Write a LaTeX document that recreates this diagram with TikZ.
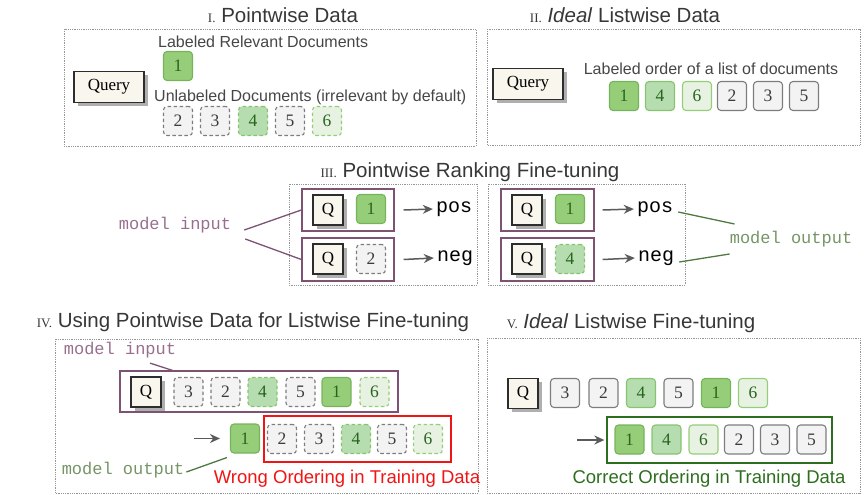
\documentclass[tikz,border=0pt]{standalone}
\usepackage{fontspec}
\setmainfont{Liberation Serif}
\setsansfont{Liberation Sans}
\setmonofont{Liberation Mono}
\usetikzlibrary{arrows.meta,shadows,calc}
\definecolor{relAfill}{RGB}{150,205,120}
\definecolor{relAline}{RGB}{118,180,92}
\definecolor{relBfill}{RGB}{182,221,176}
\definecolor{relBline}{RGB}{135,196,112}
\definecolor{relCfill}{RGB}{231,242,227}
\definecolor{relCline}{RGB}{150,205,120}
\definecolor{reltext}{RGB}{40,100,30}
\definecolor{nonfill}{RGB}{243,243,243}
\definecolor{nonline}{RGB}{125,125,125}
\definecolor{nontext}{RGB}{60,60,60}
\definecolor{qfill}{RGB}{248,246,237}
\definecolor{qline}{RGB}{45,45,45}
\definecolor{shadowgray}{RGB}{175,175,175}
\definecolor{framegray}{RGB}{150,150,150}
\definecolor{titlegray}{RGB}{55,55,55}
\definecolor{labelgray}{RGB}{70,70,70}
\definecolor{inpurple}{RGB}{125,82,115}
\definecolor{intext}{RGB}{152,112,142}
\definecolor{outline}{RGB}{80,120,65}
\definecolor{outtext}{RGB}{118,148,102}
\definecolor{arrowgray}{RGB}{90,90,90}
\definecolor{wrongred}{RGB}{240,20,20}
\definecolor{rightgreen}{RGB}{45,110,30}
\tikzstyle{panelframe}=[draw=framegray, densely dotted, line width=0.8pt]
\tikzstyle{doc}=[rounded corners=3.5pt, minimum width=29pt, minimum height=29pt, line width=1.1pt, inner sep=0pt, font=\fontsize{17.5}{17.5}\selectfont]
\tikzstyle{docA}=[doc, draw=relAline, fill=relAfill, text=reltext]
\tikzstyle{docB}=[doc, draw=relBline, fill=relBfill, text=reltext]
\tikzstyle{docC}=[doc, draw=relCline, fill=relCfill, text=reltext]
\tikzstyle{docN}=[doc, draw=nonline, fill=nonfill, text=nontext]
\tikzstyle{unl}=[dash pattern=on 3.5pt off 2.5pt]
\tikzstyle{query}=[draw=qline, fill=qfill, line width=1.6pt, inner sep=0pt, font=\fontsize{17}{17}\selectfont, drop shadow={shadow xshift=3.5pt, shadow yshift=-3.5pt, fill=shadowgray, opacity=1}]
\tikzstyle{paneltitle}=[font=\sffamily\fontsize{20.5}{20.5}\selectfont, text=titlegray, inner sep=1pt]
\tikzstyle{doclabel}=[font=\sffamily\fontsize{16}{16}\selectfont, text=labelgray, inner sep=1pt]
\tikzstyle{ttlabel}=[font=\ttfamily\fontsize{17}{17}\selectfont, inner sep=1pt]
\tikzstyle{inbox}=[draw=inpurple, line width=1.3pt, inner sep=0pt]
\tikzstyle{arr}=[draw=arrowgray, line width=1.5pt, -{Stealth[length=10pt,width=9pt]}]
\newcommand{\secnum}[1]{{\rmfamily\fontsize{13}{13}\selectfont #1.}}

\begin{document}
\begin{tikzpicture}[x=1pt,y=-1pt]
    \useasboundingbox (0,0) rectangle (867,495);

    % I. pointwise data
    \node[paneltitle] (tI) at (283,15) {\secnum{I} Pointwise Data};
    \draw[panelframe] (64,29) rectangle (476,146);
    \node[query, minimum width=70pt, minimum height=31pt] (qI) at (109,87) {Query};
    \node[doclabel, anchor=west] (lrel) at (157,42) {Labeled Relevant Documents};
    \node[docA] (dI1) at (178,66) {1};
    \node[doclabel, anchor=west] (lunl) at (153,97) {Unlabeled Documents (irrelevant by default)};
    \node[docN, unl] (dI2) at (178,121) {2};
    \node[docN, unl] (dI3) at (215,121) {3};
    \node[docB, unl] (dI4) at (253,121) {4};
    \node[docN, unl] (dI5) at (290,121) {5};
    \node[docC, unl] (dI6) at (327,121) {6};

    % II. ideal listwise data
    \node[paneltitle] (tII) at (625,15) {\secnum{II} \textit{Ideal} Listwise Data};
    \draw[panelframe] (487,29) rectangle (860,145);
    \node[query, minimum width=70pt, minimum height=31pt] (qII) at (528,84) {Query};
    \node[doclabel] (lord) at (711,69) {Labeled order of a list of documents};
    \node[docA] (dII1) at (624,96) {1};
    \node[docB] (dII4) at (660,96) {4};
    \node[docC] (dII6) at (697,96) {6};
    \node[docN] (dII2) at (732,96) {2};
    \node[docN] (dII3) at (768,96) {3};
    \node[docN] (dII5) at (804,96) {5};

    % III. pointwise ranking fine-tuning
    \node[paneltitle] (tIII) at (470,172) {\secnum{III} Pointwise Ranking Fine-tuning};
    \draw[panelframe] (289,184) rectangle (477,285);
    \draw[panelframe] (488,184) rectangle (685,285);
    \node[inbox, minimum width=92pt, minimum height=42pt] (pIIIa) at (348,210) {};
    \node[inbox, minimum width=92pt, minimum height=43pt] (pIIIb) at (348,259.5) {};
    \node[inbox, minimum width=93pt, minimum height=42pt] (pIIIc) at (547.5,210) {};
    \node[inbox, minimum width=93pt, minimum height=43pt] (pIIId) at (547.5,259.5) {};
    \node[query, minimum size=30pt] (qIIIa) at (328,210) {Q};
    \node[docA] (dIIIa) at (371,209) {1};
    \node[query, minimum size=30pt] (qIIIb) at (328,259) {Q};
    \node[docN, unl] (dIIIb) at (371,259) {2};
    \node[query, minimum size=30pt] (qIIIc) at (527,210) {Q};
    \node[docA] (dIIIc) at (570,209) {1};
    \node[query, minimum size=30pt] (qIIId) at (527,259) {Q};
    \node[docB, unl] (dIIId) at (570,259) {4};
    \node[ttlabel, font=\ttfamily\fontsize{20}{20}\selectfont] (posA) at (454,209) {pos};
    \node[ttlabel, font=\ttfamily\fontsize{20}{20}\selectfont] (negA) at (455,258) {neg};
    \node[ttlabel, font=\ttfamily\fontsize{20}{20}\selectfont] (posB) at (655,209) {pos};
    \node[ttlabel, font=\ttfamily\fontsize{20}{20}\selectfont] (negB) at (656,258) {neg};
    \draw[arr] ([xshift=9pt]pIIIa.east) -- ([xshift=-2pt]posA.west);
    \draw[arr] ([xshift=9pt]pIIIb.east) -- ([xshift=-2pt]negA.west);
    \draw[arr] ([xshift=8pt]pIIIc.east) -- ([xshift=-2pt]posB.west);
    \draw[arr] ([xshift=8pt]pIIId.east) -- ([xshift=-2pt]negB.west);
    \node[ttlabel, text=intext] (miIII) at (175,225) {model input};
    \node[ttlabel, text=outtext] (moIII) at (791,239) {model output};
    \draw[inpurple, line width=1.3pt] ($(miIII.east)+(12,5)$) -- (pIIIa.west);
    \draw[inpurple, line width=1.3pt] ($(miIII.east)+(13,14)$) -- (pIIIb.west);
    \draw[outline, line width=1.3pt] ($(posB.east)+(4,3)$) -- ($(moIII.west)+(6,-15)$);
    \draw[outline, line width=1.3pt] ($(negB.east)+(4,4)$) -- ($(moIII.west)+(1,15)$);

    % IV. pointwise data for listwise fine-tuning
    \node[paneltitle] (tIV) at (253,322) {\secnum{IV} Using Pointwise Data for Listwise Fine-tuning};
    \draw[panelframe] (55,339) rectangle (478,493);
    \node[ttlabel, text=intext] (miIV) at (120,350) {model input};
    \node[inbox, minimum width=278pt, minimum height=41pt] (pIV) at (259,391.5) {};
    \draw[inpurple, line width=1.3pt] ($(miIV.south)+(30,4)$) -- ([xshift=53pt]pIV.north west);
    \node[query, minimum size=30pt] (qIV) at (146,392) {Q};
    \node[docN, unl] (dIV3) at (188.5,392) {3};
    \node[docN, unl] (dIV2) at (225.5,392) {2};
    \node[docB, unl] (dIV4) at (262.5,392) {4};
    \node[docN, unl] (dIV5) at (300.5,392) {5};
    \node[docA] (dIV1) at (336.5,392) {1};
    \node[docC, unl] (dIV6) at (374.5,392) {6};
    \node[docA] (oIV1) at (245,438.5) {1};
    \draw[arr] ([xshift=-36pt]oIV1.west) -- ([xshift=-10pt]oIV1.west);
    \node[draw=wrongred, line width=1.3pt, minimum width=187pt, minimum height=46pt] (wrong) at (357.5,439) {};
    \node[docN, unl] (oIV2) at (282,439) {2};
    \node[docN, unl] (oIV3) at (319,439) {3};
    \node[docB, unl] (oIV4) at (356,439) {4};
    \node[docN, unl] (oIV5) at (392,439) {5};
    \node[docC, unl] (oIV6) at (428,439) {6};
    \node[ttlabel, text=outtext] (moIV) at (123,470) {model output};
    \draw[outline, line width=1.3pt] ($(moIV.east)+(1,2)$) -- ($(oIV1.south west)+(-3,4)$);
    \node[doclabel, text=wrongred, font=\sffamily\fontsize{18.5}{18.5}\selectfont] (lwrong) at (347,479) {Wrong Ordering in Training Data};

    % V. ideal listwise fine-tuning
    \node[paneltitle] (tV) at (631,323) {\secnum{V} \textit{Ideal} Listwise Fine-tuning};
    \draw[panelframe] (487,338) rectangle (860,493);
    \node[query, minimum size=30pt] (qV) at (523,393.5) {Q};
    \node[docN] (dV3) at (565,393) {3};
    \node[docN] (dV2) at (603.5,393) {2};
    \node[docB] (dV4) at (641,393) {4};
    \node[docN] (dV5) at (678.5,393) {5};
    \node[docA] (dV1) at (716,393) {1};
    \node[docC] (dV6) at (753,393) {6};
    \node[draw=rightgreen, line width=1.3pt, minimum width=225pt, minimum height=46pt] (right) at (719.5,440) {};
    \draw[arr] ([xshift=-29pt]right.west) -- ([xshift=-2pt]right.west);
    \node[docA] (oV1) at (629.5,439.5) {1};
    \node[docB] (oV4) at (666.5,439.5) {4};
    \node[docC] (oV6) at (703.5,439.5) {6};
    \node[docN] (oV2) at (739,439.5) {2};
    \node[docN] (oV3) at (775,439.5) {3};
    \node[docN] (oV5) at (811.5,439.5) {5};
    \node[doclabel, text=rightgreen, font=\sffamily\fontsize{18.5}{18.5}\selectfont] (lright) at (709,479) {Correct Ordering in Training Data};
\end{tikzpicture}
\end{document}
